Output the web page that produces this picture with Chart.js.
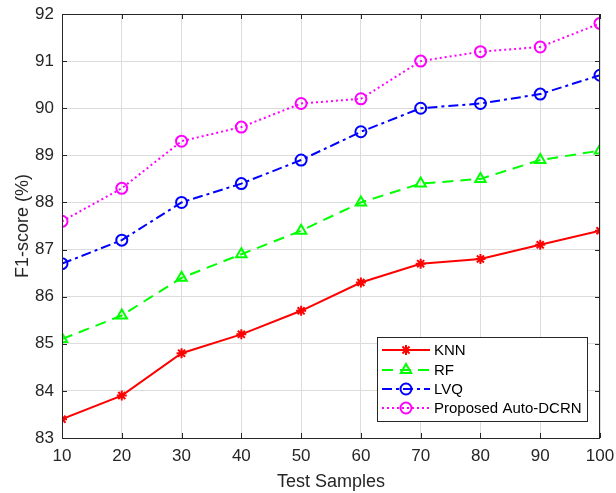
<!DOCTYPE html>
<html>
<head>
<meta charset="utf-8">
<script src="https://cdn.jsdelivr.net/npm/chart.js@4"></script>
<style>
  html, body { margin: 0; padding: 0; background: #fff; }
  #wrap { width: 616px; height: 493px; }
</style>
</head>
<body>
<div id="wrap"><canvas id="chart" width="616" height="493"></canvas></div>
<script>
// Daten
const testSamples = [10, 20, 30, 40, 50, 60, 70, 80, 90, 100];
const knn = [83.4, 83.9, 84.8, 85.2, 85.7, 86.3, 86.7, 86.8, 87.1, 87.4];
const rf = [85.1, 85.6, 86.4, 86.9, 87.4, 88.0, 88.4, 88.5, 88.9, 89.1];
const lvq = [86.7, 87.2, 88.0, 88.4, 88.9, 89.5, 90.0, 90.1, 90.3, 90.7];
const proposed = [87.6, 88.3, 89.3, 89.6, 90.1, 90.2, 91.0, 91.2, 91.3, 91.8];
const seriesNames = ["KNN", "RF", "LVQ", "Proposed Auto-DCRN"];

const FONT = "'Liberation Sans', Arial, sans-serif";
const toPoints = (vals) => vals.map((v, i) => ({ x: testSamples[i], y: v }));

// Rahmen, Ticks nach innen und Legende wie in MATLAB
const matlabBox = {
  id: "matlabBox",
  afterDraw(chart) {
    const ctx = chart.ctx;
    const a = chart.chartArea;
    const xs = chart.scales.x;
    const ys = chart.scales.y;
    ctx.save();
    ctx.strokeStyle = "#262626";
    ctx.lineWidth = 1;
    ctx.strokeRect(a.left + 0.5, a.top + 0.5, a.right - a.left - 1, a.bottom - a.top);
    const len = 5;
    ctx.beginPath();
    xs.ticks.forEach((t) => {
      const px = Math.round(xs.getPixelForValue(t.value)) + 0.5;
      ctx.moveTo(px, a.bottom); ctx.lineTo(px, a.bottom - len);
      ctx.moveTo(px, a.top); ctx.lineTo(px, a.top + len);
    });
    ys.ticks.forEach((t) => {
      const py = Math.round(ys.getPixelForValue(t.value)) + 0.5;
      ctx.moveTo(a.left, py); ctx.lineTo(a.left + len, py);
      ctx.moveTo(a.right, py); ctx.lineTo(a.right - len, py);
    });
    ctx.stroke();

    // Legende
    const bx = 377, by = 337, bw = 210, bh = 84;
    ctx.fillStyle = "#fff";
    ctx.fillRect(bx, by, bw, bh);
    ctx.strokeStyle = "#262626";
    ctx.strokeRect(bx + 0.5, by + 0.5, bw, bh);
    const rowY = [350, 370, 389, 408];
    chart.data.datasets.forEach((ds, i) => {
      const y = rowY[i];
      ctx.strokeStyle = ds.borderColor;
      ctx.lineWidth = ds.borderWidth;
      ctx.setLineDash(ds.borderDash || []);
      ctx.beginPath();
      ctx.moveTo(382, y); ctx.lineTo(430, y);
      ctx.stroke();
      ctx.setLineDash([]);
      ctx.strokeStyle = ds.pointBorderColor;
      ctx.fillStyle = ds.pointBackgroundColor;
      ctx.lineWidth = ds.pointBorderWidth;
      Chart.helpers.drawPoint(ctx, {
        pointStyle: ds.pointStyle,
        radius: ds.pointRadius,
        borderWidth: ds.pointBorderWidth,
        rotation: 0,
      }, 406, y);
      ctx.fillStyle = "#000";
      ctx.font = "15px " + FONT;
      ctx.textBaseline = "middle";
      ctx.textAlign = "left";
      ctx.fillText(ds.label, 434, y + 1);
    });
    ctx.restore();
  },
};

const makeSet = (label, vals, color, style, dash, radius) => ({
  label: label,
  data: toPoints(vals),
  borderColor: color,
  backgroundColor: "rgba(0,0,0,0)",
  borderWidth: 2,
  borderDash: dash,
  pointStyle: style,
  pointRadius: radius,
  pointBorderWidth: 2,
  pointBorderColor: color,
  pointBackgroundColor: style === "star" ? color : "rgba(0,0,0,0)",
  tension: 0,
});

new Chart(document.getElementById("chart"), {
  type: "line",
  data: {
    datasets: [
      makeSet(seriesNames[0], knn, "#ff0000", "star", [], 5),
      makeSet(seriesNames[1], rf, "#00ff00", "triangle", [11, 7], 6),
      makeSet(seriesNames[2], lvq, "#0000ff", "circle", [10, 4, 3, 4], 5.5),
      makeSet(seriesNames[3], proposed, "#ff00ff", "circle", [2, 3], 5.5),
    ],
  },
  options: {
    responsive: false,
    animation: false,
    layout: { padding: { top: 14, right: 16, left: 12, bottom: 0 } },
    plugins: {
      legend: { display: false },
      tooltip: { enabled: false },
    },
    scales: {
      x: {
        type: "linear",
        min: 10,
        max: 100,
        border: { display: false },
        grid: { color: "#dcdcdc", drawTicks: false },
        ticks: {
          stepSize: 10,
          padding: 8,
          color: "#262626",
          font: { family: FONT, size: 17 },
        },
        title: {
          display: true,
          text: "Test Samples",
          color: "#262626",
          padding: { top: 2, bottom: 0 },
          font: { family: FONT, size: 18 },
        },
        afterFit(scale) {
          scale.height = 55;
          scale.paddingLeft = 0;
          scale.paddingRight = 0;
        },
      },
      y: {
        min: 83,
        max: 92,
        border: { display: false },
        grid: { color: "#dcdcdc", drawTicks: false },
        ticks: {
          stepSize: 1,
          padding: 8,
          color: "#262626",
          font: { family: FONT, size: 17 },
        },
        title: {
          display: true,
          text: "F1-score (%)",
          color: "#262626",
          padding: { top: 0, bottom: 4 },
          font: { family: FONT, size: 18 },
        },
        afterFit(scale) {
          scale.width = 50;
          scale.paddingTop = 0;
          scale.paddingBottom = 0;
        },
      },
    },
  },
  plugins: [matlabBox],
});
</script>
</body>
</html>
